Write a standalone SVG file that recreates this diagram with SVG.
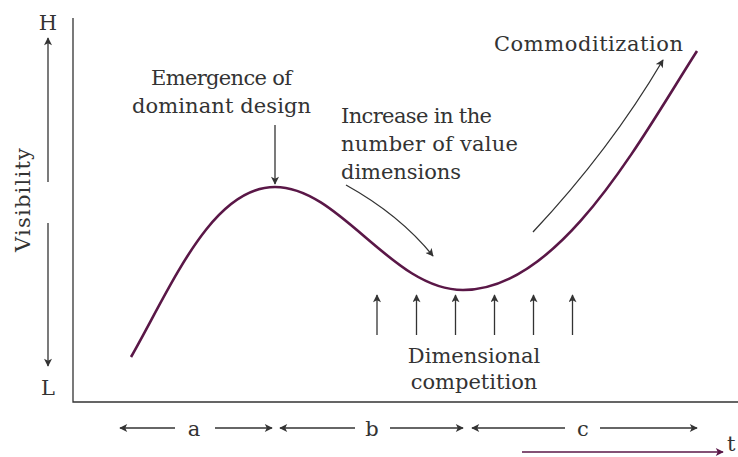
<svg xmlns="http://www.w3.org/2000/svg" width="738" height="457" viewBox="0 0 738 457">
  <defs>
    <marker id="ah" viewBox="0 0 10 10" refX="9" refY="5" markerWidth="9" markerHeight="8" markerUnits="userSpaceOnUse" orient="auto">
      <path d="M0,0 L10,5 L0,10 L2.5,5 Z" fill="#333"/>
    </marker>
    <marker id="ahm" viewBox="0 0 10 10" refX="9" refY="5" markerWidth="9" markerHeight="8" markerUnits="userSpaceOnUse" orient="auto">
      <path d="M0,0 L10,5 L0,10 L2.5,5 Z" fill="#5a1747"/>
    </marker>
    <style>
      text { font-family: "DejaVu Serif", "Liberation Serif", serif; font-size: 21px; fill: #333; }
      .arr { stroke: #333; stroke-width: 1.3; fill: none; marker-end: url(#ah); }
      .axis { stroke: #333; stroke-width: 1.3; fill: none; }
      .curve { stroke: #5a1747; stroke-width: 2.6; fill: none; }
    </style>
  </defs>
  <rect width="738" height="457" fill="#fff"/>

  <g id="axes">
    <path class="axis" d="M73,18 L73,402 L738,402"/>
  </g>

  <g id="curve">
    <path class="curve" d="M131,357 C172,285 212,187 275,187 C340,187 392,290 463,290 C560,290 640,140 697,51"/>
  </g>

  <g id="connectors">
    <line class="arr" x1="48" y1="182" x2="48" y2="38"/>
    <line class="arr" x1="48" y1="223" x2="48" y2="366"/>
    <line class="arr" x1="275" y1="125" x2="275" y2="184"/>
    <path class="arr" d="M346,185 Q400,215 433,256"/>
    <path class="arr" d="M533,232 Q610,150 663,60"/>
    <line class="arr" x1="377" y1="335" x2="377" y2="295"/>
    <line class="arr" x1="416.5" y1="335" x2="416.5" y2="295"/>
    <line class="arr" x1="455.5" y1="335" x2="455.5" y2="295"/>
    <line class="arr" x1="494.5" y1="335" x2="494.5" y2="295"/>
    <line class="arr" x1="533.5" y1="335" x2="533.5" y2="295"/>
    <line class="arr" x1="572.5" y1="335" x2="572.5" y2="295"/>
    <line class="arr" x1="175" y1="428" x2="120" y2="428"/>
    <line class="arr" x1="215" y1="428" x2="272" y2="428"/>
    <line class="arr" x1="355" y1="428" x2="280" y2="428"/>
    <line class="arr" x1="390" y1="428" x2="463" y2="428"/>
    <line class="arr" x1="565" y1="428" x2="472" y2="428"/>
    <line class="arr" x1="600" y1="428" x2="697" y2="428"/>
    <line x1="522" y1="452" x2="723" y2="452" stroke="#5a1747" stroke-width="1.3" marker-end="url(#ahm)"/>
  </g>

  <g id="label-H"><text x="48" y="30" text-anchor="middle">H</text></g>
  <g id="label-L"><text x="48" y="395" text-anchor="middle">L</text></g>
  <g id="label-visibility"><text transform="translate(30,200) rotate(-90)" text-anchor="middle" font-size="22" textLength="104">Visibility</text></g>

  <g id="label-emergence">
    <text x="151" y="85" textLength="141">Emergence of</text>
    <text x="132" y="113" textLength="179">dominant design</text>
  </g>

  <g id="label-increase">
    <text x="341" y="123" textLength="151">Increase in the</text>
    <text x="341" y="151" textLength="177">number of value</text>
    <text x="341" y="179" textLength="120">dimensions</text>
  </g>

  <g id="label-commoditization">
    <text x="494" y="51" font-size="22" textLength="189">Commoditization</text>
  </g>

  <g id="label-dimensional">
    <text x="474" y="363" text-anchor="middle">Dimensional</text>
    <text x="474" y="389" text-anchor="middle">competition</text>
  </g>

  <g id="label-a"><text x="194" y="436" text-anchor="middle">a</text></g>
  <g id="label-b"><text x="372" y="436" text-anchor="middle">b</text></g>
  <g id="label-c"><text x="583" y="436" text-anchor="middle">c</text></g>
  <g id="label-t"><text x="727" y="451" font-size="19">t</text></g>
</svg>
